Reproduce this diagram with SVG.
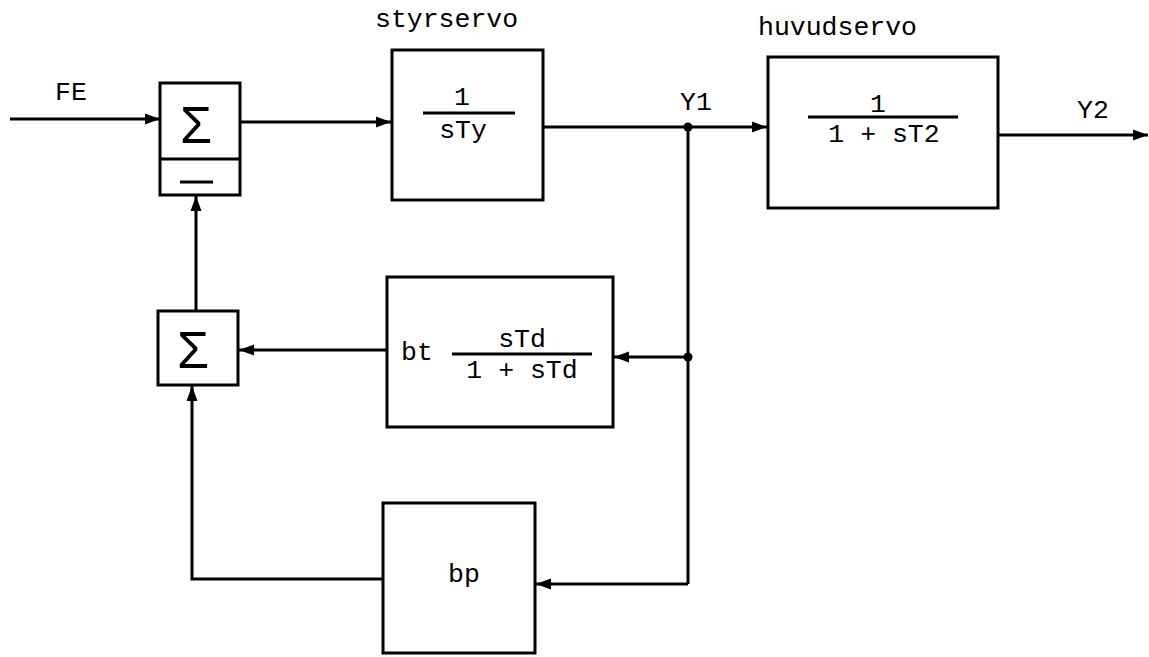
<svg xmlns="http://www.w3.org/2000/svg" width="1149" height="657" viewBox="0 0 1149 657">
<defs>
<marker id="arr" markerUnits="userSpaceOnUse" markerWidth="16" markerHeight="12" refX="15" refY="6" orient="auto">
<path d="M0,0.5 L15,6 L0,11.5 z" fill="#000"/>
</marker>
<style>
.box{fill:#fff;stroke:#000;stroke-width:3}
.ln{fill:none;stroke:#000;stroke-width:3}
.c{fill:none;stroke:#000;stroke-width:3;marker-end:url(#arr)}
.t{font-family:"Liberation Mono","DejaVu Sans Mono",monospace;font-size:26.5px;fill:#000}
.m{text-anchor:middle}
.sig{font-family:"Liberation Sans","DejaVu Sans",sans-serif;font-size:52px;fill:#000;text-anchor:middle}
</style>
</defs>
<rect width="1149" height="657" fill="#fff"/>
<g id="connectors">
<path class="c" d="M10,119 L160,119"/>
<path class="c" d="M240,122 L391,122"/>
<path class="c" d="M543,127 L767,127"/>
<path class="c" d="M998,135 L1148,135"/>
<path class="ln" d="M688,127 L688,584"/>
<path class="c" d="M688,357 L614,357"/>
<path class="c" d="M688,584 L536,584"/>
<path class="c" d="M387,350 L239,350"/>
<path class="c" d="M383,579 L192,579 L192,386"/>
<path class="c" d="M196,311 L196,196"/>
<circle cx="688" cy="127" r="4.5" fill="#000"/>
<circle cx="688" cy="357" r="4.5" fill="#000"/>
</g>
<g id="labels">
<text class="t" x="55" y="100">FE</text>
<text class="t" x="680" y="110">Y1</text>
<text class="t" x="1077" y="118">Y2</text>
</g>
<g id="sum1">
<rect class="box" x="160" y="83" width="80" height="112"/>
<path class="ln" d="M160,159 L240,159"/>
<text class="sig" x="196" y="143">Σ</text>
<path class="ln" d="M180,182 L213,182"/>
</g>
<g id="sum2">
<rect class="box" x="158" y="311" width="80" height="74"/>
<text class="sig" x="193" y="368">Σ</text>
</g>
<g id="styrservo">
<text class="t" x="375" y="27">styrservo</text>
<rect class="box" x="392" y="50" width="151" height="150"/>
<text class="t m" x="462" y="105">1</text>
<path class="ln" d="M423,113 L515,113"/>
<text class="t m" x="463" y="138">sTy</text>
</g>
<g id="huvudservo">
<text class="t" x="758" y="35">huvudservo</text>
<rect class="box" x="768" y="57" width="230" height="151"/>
<text class="t m" x="878" y="112">1</text>
<path class="ln" d="M808,117 L958,117"/>
<text class="t m" x="884" y="142">1 + sT2</text>
</g>
<g id="bt">
<rect class="box" x="387" y="277" width="226" height="150"/>
<text class="t" x="401" y="360">bt</text>
<path class="ln" d="M452,354 L592,354"/>
<text class="t m" x="522" y="347">sTd</text>
<text class="t m" x="522" y="378">1 + sTd</text>
</g>
<g id="bp">
<rect class="box" x="383" y="503" width="152" height="150"/>
<text class="t m" x="464" y="582">bp</text>
</g>
</svg>
